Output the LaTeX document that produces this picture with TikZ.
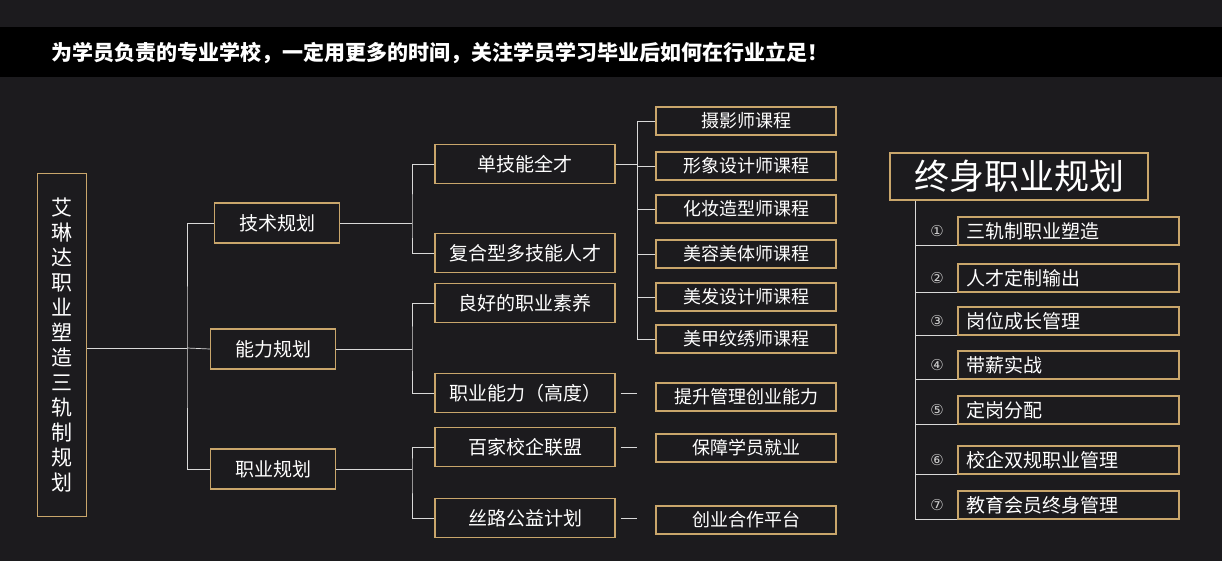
\documentclass[tikz,border=0pt]{standalone}
\usepackage{fontspec}
\setmainfont{Noto Sans CJK SC}
\newfontfamily\dv{DejaVu Sans}
\begin{document}
\begin{tikzpicture}[x=1pt,y=-1pt,
  gold/.style={draw=goldc,line width=1.3pt,text=white,inner sep=0pt},
  mid/.style={gold,minimum width=180,minimum height=39,font=\fontsize{19}{20}\selectfont},
  sub/.style={gold,minimum width=180,minimum height=28,font=\fontsize{18}{20}\selectfont},
  rit/.style={gold,minimum width=221,minimum height=28,font=\fontsize{19}{20}\selectfont,text width=205,align=left},
  lvl/.style={gold,minimum width=125,minimum height=40,font=\fontsize{19}{20}\selectfont},
  ln/.style={draw=white!85!black,line width=0.7pt},
  num/.style={text=white!80!black,font=\dv\fontsize{15}{16}\selectfont}]
\definecolor{goldc}{HTML}{C9A66B}
\fill[fill={rgb,255:red,28;green,27;blue,30}] (0,0) rectangle (1222,561);
\useasboundingbox (0,0) rectangle (1222,561);
\fill[black] (0,27) rectangle (1222,77);
\node[anchor=west,text=white,font=\bfseries\fontsize{21}{22}\selectfont] (hdr) at (48,53) {为学员负责的专业学校，一定用更多的时间，关注学员学习毕业后如何在行业立足！};
\node[gold,minimum width=49,minimum height=343,font=\fontsize{21}{25}\selectfont,align=center] (root) at (62,345) {艾\\琳\\达\\职\\业\\塑\\造\\三\\轨\\制\\规\\划};
\node[lvl] (js) at (277,223) {技术规划};
\node[lvl] (nl) at (273,349) {能力规划};
\node[lvl] (zy) at (273,469) {职业规划};
\node[mid] (a1) at (525,164) {单技能全才};
\node[mid] (a2) at (525,253) {复合型多技能人才};
\node[mid] (b1) at (525,303) {良好的职业素养};
\node[mid] (b2) at (525,393) {职业能力（高度）};
\node[mid] (c1) at (525,447) {百家校企联盟};
\node[mid] (c2) at (525,518) {丝路公益计划};
\foreach \n/\y/\t in {s1/121/摄影师课程,s2/166/形象设计师课程,s3/209/化妆造型师课程,s4/254/美容美体师课程,s5/297/美发设计师课程,s6/339/美甲纹绣师课程,t1/397/提升管理创业能力,t2/448/保障学员就业,t3/520/创业合作平台}
  \node[sub] (\n) at (746,\y) {\t};
% connectors
\coordinate (j0) at (187,348);
\draw[ln] (root.east|-j0) -- (j0);
\draw[ln] (js.west) -| (j0) |- (zy.west);
\draw[ln] (j0) -- (nl.west);
\draw[ln] (js.east) -- (412,223);
\draw[ln] (a1.west) -| (412,223) |- (a2.west);
\draw[ln] (nl.east) -- (412,349);
\draw[ln] (b1.west) -| (412,349) |- (b2.west);
\draw[ln] (zy.east) -- (412,469);
\draw[ln] (c1.west) -| (412,469) |- (c2.west);
\draw[ln] (a1.east) -- (637,164);
\draw[ln] (s1.west) -| (637,164) |- (s6.west);
\foreach \n in {s2,s3,s4,s5} \draw[ln] (637,0|-\n.west) -- (\n.west);
\draw[ln] ([xshift=5]b2.east) -- ([xshift=-18]t1.west|-b2.east);
\draw[ln] ([xshift=5]c1.east) -- ([xshift=-18]t2.west|-c1.east);
\draw[ln] ([xshift=5]c2.east) -- ([xshift=-18]t3.west|-c2.east);
% right panel
\node[gold,minimum width=258,minimum height=47,font=\fontsize{35}{38}\selectfont] (ttl) at (1019,176.5) {终身职业规划};
\foreach \n/\y/\k/\t in {r1/231/①/三轨制职业塑造,r2/278/②/人才定制输出,r3/321/③/岗位成长管理,r4/365/④/带薪实战,r5/410/⑤/定岗分配,r6/460/⑥/校企双规职业管理,r7/505/⑦/教育会员终身管理}{
  \node[rit] (\n) at (1068.5,\y) {\t};
  \node[num] (\n n) at (937,\y) {\k};
  \draw[ln] (915,0|-\n.south) -- (\n.south west);
}
\draw[ln] (915,0|-ttl.south) -- (915,0|-r7.south);
\end{tikzpicture}
\end{document}
